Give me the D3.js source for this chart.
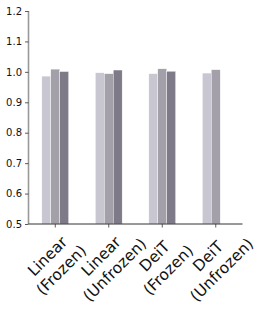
<!DOCTYPE html>
<html>
<head>
<meta charset="utf-8">
<script src="https://cdn.jsdelivr.net/npm/d3@7"></script>
<style>
  body { margin: 0; background: #fff; }
  svg { display: block; font-family: "DejaVu Sans", sans-serif; }
</style>
</head>
<body>
<div class="chart"></div>
<script>
// data
var groups = ["Linear\n(Frozen)", "Linear\n(Unfrozen)", "DeiT\n(Frozen)", "DeiT\n(Unfrozen)"];
var seriesA = [0.986, 0.997, 0.994, 0.996];
var seriesB = [1.009, 0.994, 1.010, 1.007];
var seriesC = [1.001, 1.006, 1.002, null];
var yTicks = [0.5, 0.6, 0.7, 0.8, 0.9, 1.0, 1.1, 1.2];
var colors = ["#c8c6d0", "#a3a0aa", "#7e7a88"];

var svgWidth = 266, svgHeight = 322;
var margin = { top: 11, left: 28.5, right: 23.5, bottom: 98 };
var width = svgWidth - margin.left - margin.right;
var height = svgHeight - margin.top - margin.bottom;

var svg = d3.select(".chart").append("svg")
  .attr("width", svgWidth)
  .attr("height", svgHeight);

var chartGroup = svg.append("g")
  .attr("transform", `translate(${margin.left}, ${margin.top})`);

var xScale = d3.scaleBand().domain(groups).range([0, width]).padding(0);
var yScale = d3.scaleLinear().domain([0.5, 1.2]).range([height, 0]);

var barW = xScale.bandwidth() * 0.167;
var series = [seriesA, seriesB, seriesC];

series.forEach(function(vals, i) {
  var rows = groups.map(function(g, j) { return { g: g, v: vals[j] }; })
    .filter(function(d) { return d.v != null; });
  chartGroup.selectAll(".bar" + i)
    .data(rows)
    .enter()
    .append("rect")
    .attr("class", "bar" + i)
    .attr("x", d => xScale(d.g) + xScale.bandwidth() / 2 + (i - 1.5) * barW)
    .attr("y", d => yScale(d.v))
    .attr("width", barW)
    .attr("height", d => height - yScale(d.v))
    .attr("fill", colors[i])
    .attr("stroke", "#fff")
    .attr("stroke-width", 0.4);
});

// y axis
var yAxis = d3.axisLeft(yScale).tickValues(yTicks).tickFormat(d3.format(".1f")).tickSize(3.5).tickPadding(3);
var yG = chartGroup.append("g").call(yAxis);
yG.select(".domain").attr("stroke", "#999").attr("stroke-width", 1.6)
  .attr("d", `M0,${height}V0`);
yG.selectAll(".tick line").attr("stroke", "#333").attr("stroke-width", 0.8);
yG.selectAll(".tick text").attr("font-size", "10px").attr("fill", "#111")
  .attr("font-family", "DejaVu Sans");

// x axis
var xAxis = d3.axisBottom(xScale).tickSize(3.5).tickFormat("");
var xG = chartGroup.append("g").attr("transform", `translate(0, ${height})`).call(xAxis);
xG.select(".domain").attr("stroke", "#333").attr("stroke-width", 1)
  .attr("d", `M0,0H${width}`);
xG.selectAll(".tick line").attr("stroke", "#333").attr("stroke-width", 0.8);

// rotated two-line labels
groups.forEach(function(g) {
  var cx = xScale(g) + xScale.bandwidth() / 2;
  var lines = g.split("\n");
  var t = chartGroup.append("text")
    .attr("transform", `translate(${cx - 4}, ${height + 36}) rotate(-45)`)
    .attr("text-anchor", "middle")
    .attr("font-size", "15.5px")
    .attr("fill", "#111");
  lines.forEach(function(l, k) {
    t.append("tspan").attr("x", 0).attr("dy", k === 0 ? 0 : "1.25em").text(l);
  });
});
</script>
</body>
</html>
